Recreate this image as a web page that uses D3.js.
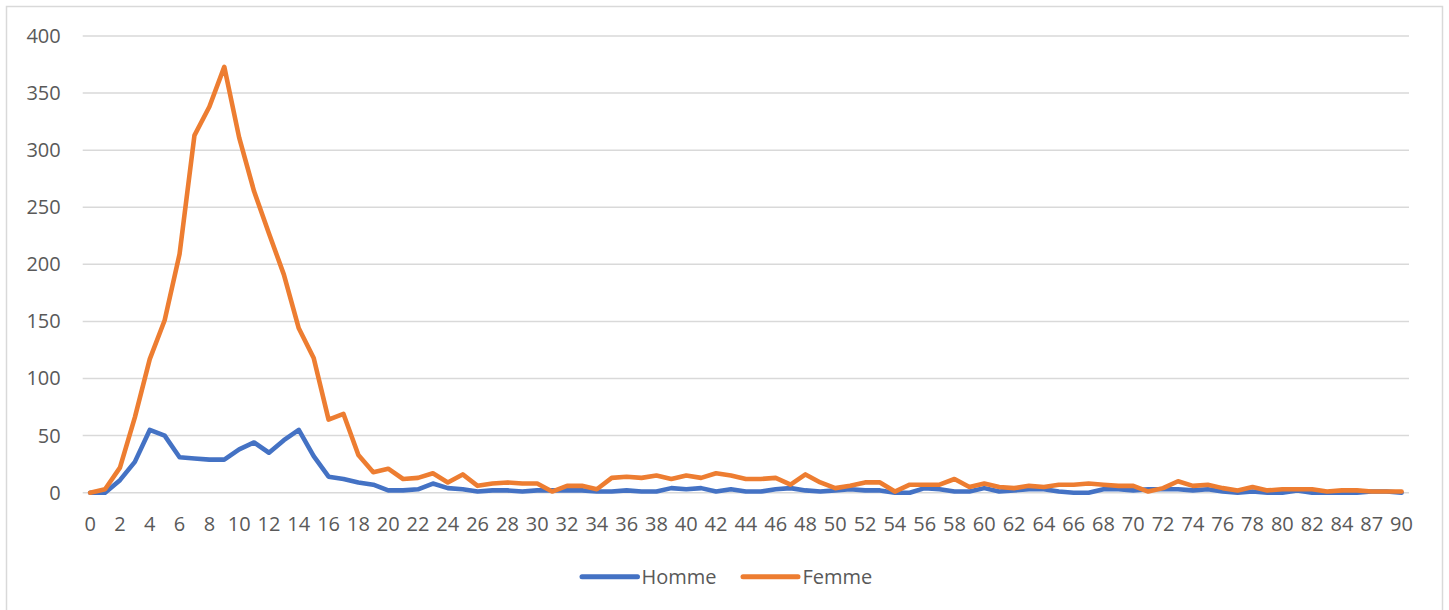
<!DOCTYPE html>
<html>
<head>
<meta charset="utf-8">
<script src="https://cdn.jsdelivr.net/npm/d3@7"></script>
<style>
  html, body { margin: 0; padding: 0; background: #fff; }
  text { font-family: "Open Sans", "Noto Sans", sans-serif; fill: #595959; }
</style>
</head>
<body>
<svg id="chart" width="1449" height="610"></svg>
<script>
// ---- data ----
const categories = [
  "0","1","2","3","4","5","6","7","8","9","10","11","12","13","14","15","16","17","18","19",
  "20","21","22","23","24","25","26","27","28","29","30","31","32","33","34","35","36","37","38","39",
  "40","41","42","43","44","45","46","47","48","49","50","51","52","53","54","55","56","57","58","59",
  "60","61","62","63","64","65","66","67","68","69","70","71","72","73","74","75","76","77","78","79",
  "80","81","82","83","84","85","87","88","90"
];
const homme = [
  0,0,11,27,55,50,31,30,29,29,38,44,35,46,55,32,14,12,9,7,
  2,2,3,8,4,3,1,2,2,1,2,2,2,2,1,1,2,1,1,4,
  3,4,1,3,1,1,3,4,2,1,2,3,2,2,0,0,4,3,1,1,
  4,1,2,3,3,1,0,0,3,3,2,3,3,3,2,3,1,0,1,0,
  0,2,0,0,0,0,1,1,0
];
const femme = [
  0,3,22,66,117,151,209,313,338,373,311,264,227,191,144,118,64,69,33,18,
  21,12,13,17,9,16,6,8,9,8,8,1,6,6,3,13,14,13,15,12,
  15,13,17,15,12,12,13,7,16,9,4,6,9,9,1,7,7,7,12,5,
  8,5,4,6,5,7,7,8,7,6,6,1,4,10,6,7,4,2,5,2,
  3,3,3,1,2,2,1,1,1
];
const yTicks = [0,50,100,150,200,250,300,350,400];
const seriesNames = ["Homme","Femme"];
const seriesColors = ["#4472C4","#ED7D31"];

// ---- layout ----
const svg = d3.select("#chart");
const plot = { left: 82.7, right: 1409, top: 36, bottom: 492.7 };

svg.append("rect")
  .attr("x", 6.5).attr("y", 6.5)
  .attr("width", 1436).attr("height", 640)
  .attr("fill", "#fff").attr("stroke", "#d9d9d9").attr("stroke-width", 1.5);

const x = d3.scaleBand().domain(categories).range([plot.left, plot.right]).padding(0);
const xc = d => x(d) + x.bandwidth() / 2;
const y = d3.scaleLinear().domain([0, 400]).range([plot.bottom, plot.top]);

// gridlines
svg.append("g").selectAll("line").data(yTicks).join("line")
  .attr("x1", plot.left).attr("x2", plot.right)
  .attr("y1", d => y(d)).attr("y2", d => y(d))
  .attr("stroke", "#d9d9d9").attr("stroke-width", 1.5);

// y axis
const yAxis = svg.append("g")
  .attr("transform", `translate(${plot.left},0)`)
  .call(d3.axisLeft(y).tickValues(yTicks).tickSize(0).tickPadding(22));
yAxis.select(".domain").remove();
yAxis.selectAll("text").style("font-size", "20px").attr("fill", "#595959")
  .style("font-family", '"Open Sans", sans-serif');

// x axis
const xAxis = svg.append("g")
  .attr("transform", `translate(0,${plot.bottom})`)
  .call(d3.axisBottom(x).tickValues(categories.filter((d, i) => i % 2 === 0)).tickSize(0).tickPadding(24));
xAxis.select(".domain").remove();
xAxis.selectAll("text").style("font-size", "20px").attr("fill", "#595959")
  .style("font-family", '"Open Sans", sans-serif');

// lines
const lineGen = d3.line().x((d, i) => xc(categories[i])).y(d => y(d));
[homme, femme].forEach((vals, k) => {
  svg.append("path")
    .datum(vals)
    .attr("d", lineGen)
    .attr("fill", "none")
    .attr("stroke", seriesColors[k])
    .attr("stroke-width", 4.6)
    .attr("stroke-linejoin", "round")
    .attr("stroke-linecap", "round");
});

// legend
const legendItems = [
  { x1: 582, x2: 637.5, tx: 641.5 },
  { x1: 743, x2: 798, tx: 802.5 }
];
const lg = svg.append("g");
seriesNames.forEach((name, k) => {
  const it = legendItems[k];
  lg.append("line")
    .attr("x1", it.x1).attr("x2", it.x2)
    .attr("y1", 576.7).attr("y2", 576.7)
    .attr("stroke", seriesColors[k]).attr("stroke-width", 5)
    .attr("stroke-linecap", "round");
  lg.append("text")
    .attr("x", it.tx).attr("y", 584)
    .style("font-size", "20px")
    .text(name);
});
</script>
</body>
</html>
